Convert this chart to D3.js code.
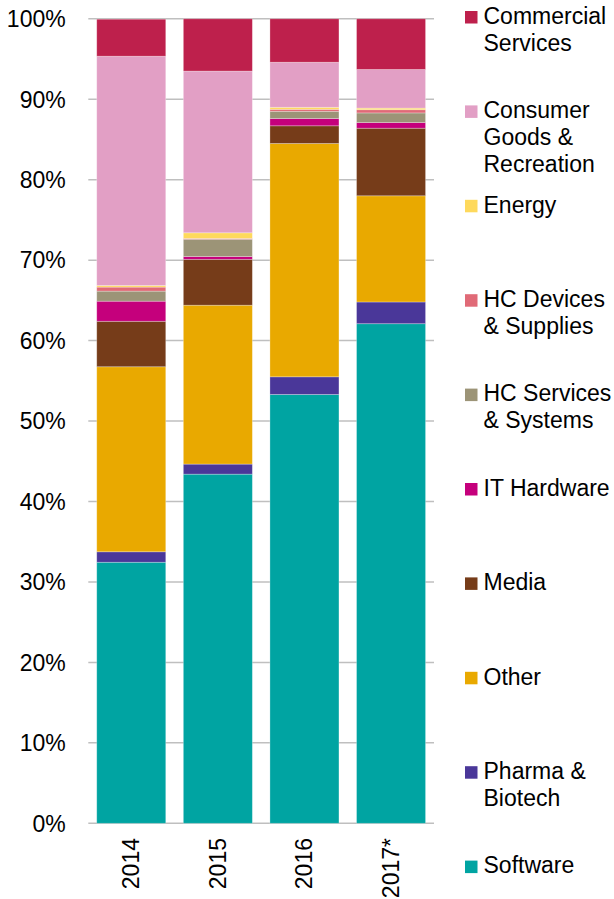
<!DOCTYPE html>
<html>
<head>
<meta charset="utf-8">
<script src="https://cdn.jsdelivr.net/npm/d3@7"></script>
<style>
  html, body { margin: 0; padding: 0; background: #fff; }
  svg { display: block; }
  text { font-family: "Liberation Sans", Arial, sans-serif; fill: #000; }
</style>
</head>
<body>
<svg id="chart" width="614" height="899"></svg>
<script>
// ---- data ----
const years = ["2014", "2015", "2016", "2017*"];
const sectors = ["Software", "Pharma & Biotech", "Other", "Media", "IT Hardware",
  "HC Services & Systems", "HC Devices & Supplies", "Energy",
  "Consumer Goods & Recreation", "Commercial Services"];
const software   = [32.45, 43.4, 53.3, 62.1];
const pharma     = [1.3, 1.25, 2.2, 2.7];
const other      = [23.0, 19.75, 29.0, 13.2];
const media      = [5.65, 5.7, 2.2, 8.4];
const itHardware = [2.5, 0.35, 0.9, 0.7];
const hcServices = [1.25, 2.15, 0.9, 1.2];
const hcDevices  = [0.5, 0.1, 0.25, 0.4];
const energy     = [0.2, 0.7, 0.25, 0.2];
const consumer   = [28.5, 20.1, 5.6, 4.8];
const commercial = [4.6, 6.5, 5.4, 6.3];
const yTicks = [0, 10, 20, 30, 40, 50, 60, 70, 80, 90, 100];
const legendLines = {
  "Commercial Services": ["Commercial", "Services"],
  "Consumer Goods & Recreation": ["Consumer", "Goods &", "Recreation"],
  "Energy": ["Energy"],
  "HC Devices & Supplies": ["HC Devices", "& Supplies"],
  "HC Services & Systems": ["HC Services", "& Systems"],
  "IT Hardware": ["IT Hardware"],
  "Media": ["Media"],
  "Other": ["Other"],
  "Pharma & Biotech": ["Pharma &", "Biotech"],
  "Software": ["Software"]
};

const seriesValues = [software, pharma, other, media, itHardware, hcServices,
  hcDevices, energy, consumer, commercial];
const colors = ["#00a4a2", "#4a3799", "#e9a900", "#763c19", "#c5007c",
  "#9c9477", "#e06a77", "#fed95c", "#e29fc5", "#be204c"];

const table = years.map((y, i) => {
  const row = { year: y };
  sectors.forEach((s, k) => row[s] = seriesValues[k][i]);
  return row;
});

const svg = d3.select("#chart");
const x = d3.scaleBand().domain(years).range([88.3, 434]).paddingInner(0.203).paddingOuter(0.0975);
const y = d3.scaleLinear().domain([0, 100]).range([823.3, 18.8]);
const color = d3.scaleOrdinal().domain(sectors).range(colors);

// gridlines
svg.append("g").selectAll("line").data(yTicks).join("line")
  .attr("x1", 88.3).attr("x2", 434)
  .attr("y1", d => y(d)).attr("y2", d => y(d))
  .attr("stroke", "#bfbfbf").attr("stroke-width", 1.5);

// y labels
svg.append("g").selectAll("text").data(yTicks).join("text")
  .attr("x", 65.7).attr("y", d => y(d)).attr("dy", "0.36em")
  .attr("text-anchor", "end").attr("font-size", 23)
  .text(d => d + "%");

// stacked bars
const stack = d3.stack().keys(sectors)(table);
svg.append("g").selectAll("g").data(stack).join("g")
  .attr("fill", d => color(d.key))
  .selectAll("rect").data(d => d).join("rect")
  .attr("x", d => x(d.data.year))
  .attr("width", x.bandwidth())
  .attr("y", d => y(d[1]))
  .attr("height", d => y(d[0]) - y(d[1]))
  .attr("stroke", "rgba(255,255,255,0.35)").attr("stroke-width", 0.8);

// x labels (rotated)
svg.append("g").selectAll("text").data(years).join("text")
  .attr("transform", d => `translate(${x(d) + x.bandwidth() / 2 + 8},838) rotate(-90)`)
  .attr("text-anchor", "end").attr("font-size", 23)
  .text(d => d);

// legend
const legendOrder = sectors.slice().reverse();
const lg = svg.append("g").selectAll("g").data(legendOrder).join("g")
  .attr("transform", (d, i) => `translate(465,${17 + i * 94.4})`);
lg.append("rect").attr("x", 0).attr("y", -6).attr("width", 12.5).attr("height", 12.5)
  .attr("fill", d => color(d));
lg.append("text").attr("font-size", 23)
  .selectAll("tspan").data(d => legendLines[d]).join("tspan")
  .attr("x", 18.5).attr("y", (d, i) => 6.8 + i * 26.7)
  .text(d => d);
</script>
</body>
</html>
